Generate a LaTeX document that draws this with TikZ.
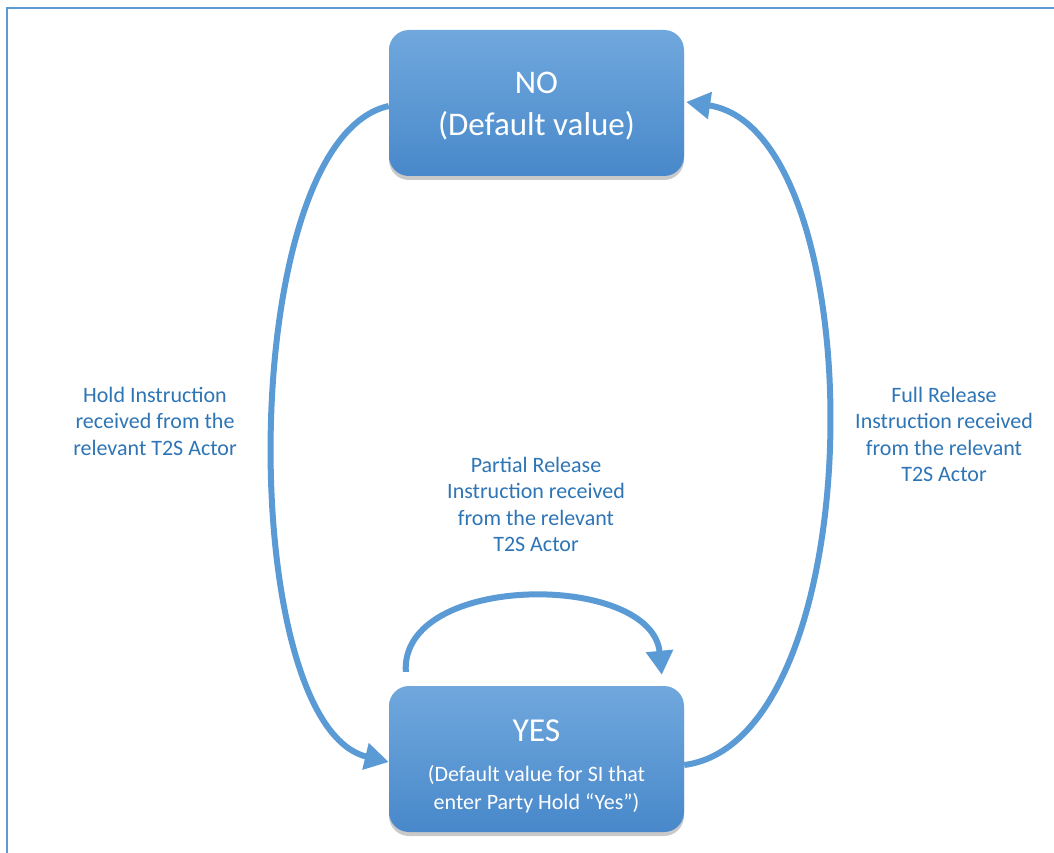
\documentclass[tikz,border=0pt]{standalone}
\usepackage{fontspec}
\setmainfont{Carlito}
\usetikzlibrary{arrows.meta,shadows,calc}
\definecolor{boxtop}{HTML}{70A8DD}
\definecolor{boxbot}{HTML}{4888CA}
\definecolor{arc}{HTML}{5B9BD5}
\definecolor{lbl}{HTML}{2E75B6}
\newcommand{\bigsz}{\fontsize{33.5}{33.5}\selectfont}
\newcommand{\smallsz}{\fontsize{22}{28}\selectfont}
\tikzset{
  statebox/.style={rounded corners=20pt, minimum width=295pt, minimum height=146pt,
    top color=boxtop, bottom color=boxbot, draw=none,
    drop shadow={shadow xshift=0pt, shadow yshift=-4pt, opacity=0.35, fill=black!60},
    text=white, align=center, inner sep=0pt},
  conn/.style={draw=arc, line width=6pt, -{Triangle[length=24pt,width=26pt]}},
  lab/.style={text=lbl, align=center, font=\fontsize{22}{26.5}\selectfont}
}
\begin{document}
\begin{tikzpicture}[x=1pt,y=-1pt]
\useasboundingbox (0,0) rectangle (1054,853);
\fill[white] (0,0) rectangle (1054,853);
\draw[arc, line width=2pt] (7,853) -- (7,8) -- (1054,8);
\node[statebox, font=\fontsize{33}{42}\selectfont] (no) at (536.5,103)
  {\rule{0pt}{28pt}NO\\(Default value)};
\node[statebox, font=\smallsz] (yes) at (536.5,759)
  {\bigsz\rule{0pt}{36pt}YES\\[12pt]\smallsz (Default value for SI that\\\smallsz enter Party Hold “Yes”)};
\draw[conn] ($(no.west)+(0,3)$) .. controls (235,140) and (235,725) .. ($(yes.west)+(0,3)$);
\draw[conn] ($(yes.east)+(0,6)$) .. controls (875,740) and (875,130) .. ($(no.east)+(2,-1)$);
\draw[conn] ($(yes.north west)+(17,-14)$) .. controls (400,572) and (652,572) .. ($(yes.north west)+(273,-11)$);
\node[lab] (hold) at (155,421) {Hold Instruction\\received from the\\relevant T2S Actor};
\node[lab] (full) at (944,434.5) {Full Release\\Instruction received\\from the relevant\\T2S Actor};
\node[lab] (part) at (536,504.5) {Partial Release\\Instruction received\\from the relevant\\T2S Actor};
\end{tikzpicture}
\end{document}
